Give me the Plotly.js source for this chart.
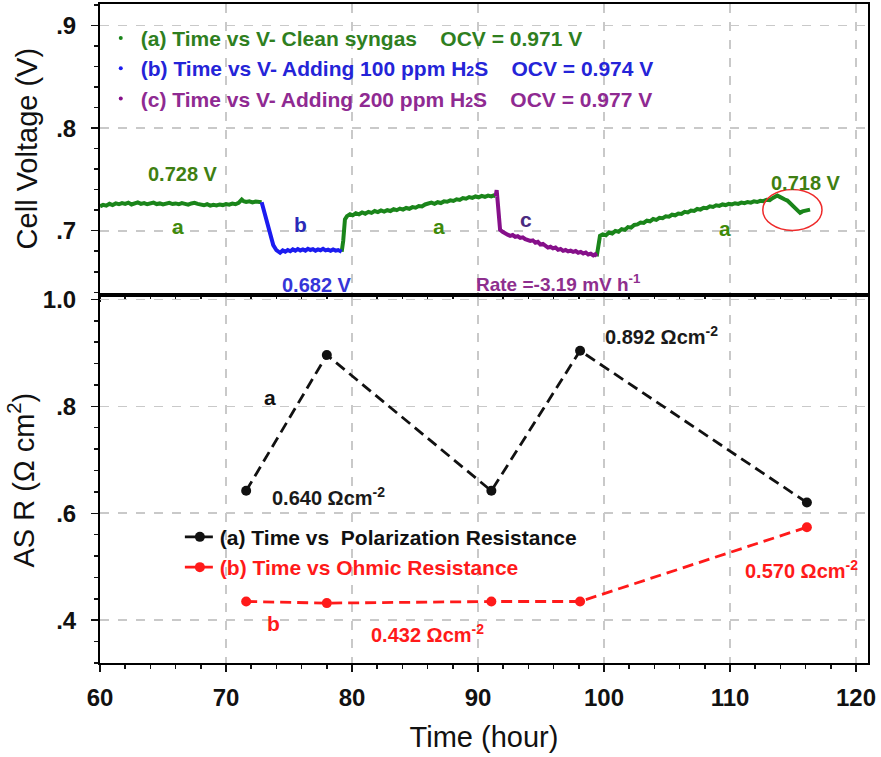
<!DOCTYPE html>
<html>
<head>
<meta charset="utf-8">
<script src="https://cdn.plot.ly/plotly-3.0.1.min.js"></script>
<style>html,body{margin:0;padding:0;background:#fff;}#chart{width:881px;height:757px;}</style>
</head>
<body>
<div id="chart"></div>
<script>
// ---------- Top panel: cell voltage vs time ----------
const timeCleanA1 = [60.0,60.25,60.5,60.75,61.0,61.25,61.5,61.75,62.0,62.25,62.5,62.75,63.0,63.25,63.5,63.75,64.0,64.25,64.5,64.75,65.0,65.25,65.5,65.75,66.0,66.25,66.5,66.75,67.0,67.25,67.5,67.75,68.0,68.25,68.5,68.75,69.0,69.25,69.5,69.75,70.0,70.25,70.5,70.75,71.0,71.15,71.25,71.4,71.6,71.85,72.1,72.35,72.6,72.83];
const voltCleanA1 = [0.7238,0.7252,0.7244,0.7262,0.7250,0.7266,0.7258,0.7270,0.7262,0.7274,0.7256,0.7268,0.7276,0.7262,0.7270,0.7258,0.7268,0.7274,0.7260,0.7266,0.7256,0.7268,0.7272,0.7260,0.7266,0.7258,0.7270,0.7262,0.7254,0.7266,0.7272,0.7262,0.7256,0.7248,0.7258,0.7244,0.7252,0.7246,0.7256,0.7250,0.7260,0.7254,0.7264,0.7258,0.7272,0.7290,0.7304,0.7288,0.7280,0.7286,0.7276,0.7284,0.7276,0.7278];

const time100ppm = [72.83,73.05,73.3,73.55,73.75,74.0,74.29,74.5,74.7,74.9,75.1,75.3,75.5,75.7,75.9,76.1,76.3,76.5,76.7,76.9,77.1,77.3,77.5,77.7,77.9,78.1,78.3,78.5,78.7,78.9,79.05,79.18];
const volt100ppm = [0.7278,0.7170,0.7050,0.6930,0.6860,0.6810,0.6785,0.6808,0.6796,0.6812,0.6800,0.6818,0.6806,0.6822,0.6808,0.6818,0.6806,0.6824,0.6812,0.6820,0.6806,0.6818,0.6810,0.6824,0.6808,0.6816,0.6804,0.6818,0.6806,0.6812,0.6800,0.6795];

const timeCleanA2 = [79.18,79.3,79.44,79.6,79.84,80.05,80.3,80.55,80.8,81.05,81.3,81.55,81.8,82.05,82.3,82.55,82.8,83.05,83.3,83.55,83.8,84.05,84.3,84.55,84.8,85.05,85.3,85.55,85.8,86.05,86.3,86.55,86.8,87.05,87.3,87.55,87.8,88.05,88.3,88.55,88.8,89.05,89.3,89.55,89.8,90.05,90.3,90.55,90.8,91.05,91.25,91.4];
const voltCleanA2 = [0.6795,0.6900,0.7110,0.7142,0.7160,0.7150,0.7170,0.7160,0.7178,0.7166,0.7184,0.7174,0.7192,0.7182,0.7198,0.7186,0.7200,0.7192,0.7210,0.7200,0.7216,0.7206,0.7222,0.7214,0.7230,0.7224,0.7240,0.7236,0.7256,0.7264,0.7274,0.7262,0.7278,0.7270,0.7286,0.7282,0.7296,0.7290,0.7306,0.7300,0.7318,0.7312,0.7328,0.7320,0.7334,0.7326,0.7340,0.7330,0.7342,0.7334,0.7344,0.7337];

const time200ppm = [91.4,91.48,91.55,91.65,91.75,91.95,92.15,92.35,92.55,92.75,92.95,93.15,93.35,93.55,93.75,93.95,94.15,94.35,94.55,94.75,94.95,95.15,95.35,95.55,95.75,95.95,96.15,96.35,96.55,96.75,96.95,97.15,97.35,97.55,97.75,97.95,98.15,98.35,98.55,98.75,98.95,99.15,99.3,99.42];
const volt200ppm = [0.7337,0.7395,0.7300,0.7100,0.7010,0.6990,0.6972,0.6962,0.6950,0.6958,0.6940,0.6946,0.6930,0.6936,0.6918,0.6912,0.6900,0.6906,0.6884,0.6892,0.6866,0.6872,0.6852,0.6836,0.6844,0.6828,0.6836,0.6814,0.6822,0.6804,0.6812,0.6798,0.6806,0.6794,0.6802,0.6786,0.6794,0.6778,0.6788,0.6768,0.6776,0.6760,0.6770,0.6750];

const timeCleanA3 = [99.42,99.55,99.68,99.9,100.15,100.4,100.65,100.9,101.15,101.4,101.65,101.9,102.15,102.4,102.65,102.9,103.15,103.4,103.65,103.9,104.15,104.4,104.65,104.9,105.15,105.4,105.65,105.9,106.15,106.4,106.65,106.9,107.15,107.4,107.65,107.9,108.15,108.4,108.65,108.9,109.15,109.4,109.65,109.9,110.15,110.4,110.65,110.9,111.15,111.4,111.65,111.9,112.15,112.4,112.65,112.9,113.15,113.4,113.6,113.75,113.95,114.15,114.35,114.55,114.76,114.95,115.15,115.35,115.56,115.75,115.95,116.15,116.35];
const voltCleanA3 = [0.6750,0.6850,0.6950,0.6964,0.6956,0.6982,0.6972,0.6998,0.6990,0.7016,0.7008,0.7036,0.7030,0.7056,0.7062,0.7080,0.7076,0.7098,0.7092,0.7114,0.7106,0.7126,0.7122,0.7140,0.7136,0.7156,0.7150,0.7168,0.7164,0.7184,0.7178,0.7196,0.7192,0.7212,0.7206,0.7224,0.7220,0.7238,0.7232,0.7248,0.7242,0.7256,0.7250,0.7262,0.7256,0.7268,0.7262,0.7274,0.7268,0.7280,0.7274,0.7286,0.7280,0.7292,0.7288,0.7302,0.7298,0.7320,0.7336,0.7343,0.7330,0.7322,0.7304,0.7294,0.7271,0.7252,0.7228,0.7196,0.7174,0.7188,0.7194,0.7202,0.7206];

// ---------- Bottom panel: ASR vs time ----------
const timeASR = [71.6, 78.0, 91.06, 98.1, 116.1];
const polarizationASR = [0.642, 0.896, 0.642, 0.904, 0.620];
const ohmicASR = [0.435, 0.432, 0.435, 0.435, 0.574];

// ---------- Tick labels ----------
const xTickVals = [60, 70, 80, 90, 100, 110, 120];
const yTopTickVals = [0.7, 0.8, 0.9];
const yTopTickText = ['.7', '.8', '.9'];
const yBotTickVals = [0.4, 0.6, 0.8, 1.0];
const yBotTickText = ['.4', '.6', '.8', '1.0'];

// ---------- Legend labels ----------
const legendTop = [
  '(a) Time vs V- Clean syngas\u00A0\u00A0\u00A0\u00A0OCV = 0.971 V',
  '(b) Time vs V- Adding 100 ppm H<span style="font-size:14px">2</span>S\u00A0\u00A0\u00A0\u00A0OCV = 0.974 V',
  '(c) Time vs V- Adding 200 ppm H<span style="font-size:14px">2</span>S\u00A0\u00A0\u00A0\u00A0OCV = 0.977 V'
];
const legendBottom = ['(a) Time vs\u00A0 Polarization Resistance', '(b) Time vs Ohmic Resistance'];

const FONT = 'Liberation Sans, Arial, Helvetica, sans-serif';
const GREEN = '#1a851a', BLUE = '#1c1cf0', PURPLE = '#86108a';
const GRID = '#c9c9c9';

const greenX = [...timeCleanA1, null, ...timeCleanA2, null, ...timeCleanA3];
const greenY = [...voltCleanA1, null, ...voltCleanA2, null, ...voltCleanA3];

const data = [
  {x: greenX, y: greenY, xaxis: 'x', yaxis: 'y', mode: 'lines', line: {color: GREEN, width: 4}, showlegend: false, connectgaps: false},
  {x: time100ppm, y: volt100ppm, xaxis: 'x', yaxis: 'y', mode: 'lines', line: {color: BLUE, width: 4}, showlegend: false},
  {x: time200ppm, y: volt200ppm, xaxis: 'x', yaxis: 'y', mode: 'lines', line: {color: PURPLE, width: 4}, showlegend: false},
  // legend entries (dot symbols) for the top panel
  {x: [null], y: [null], xaxis: 'x', yaxis: 'y', mode: 'markers', marker: {color: GREEN, size: 4},
   name: '<span style="color:#2f7f1f">' + legendTop[0] + '</span>', legend: 'legend'},
  {x: [null], y: [null], xaxis: 'x', yaxis: 'y', mode: 'markers', marker: {color: BLUE, size: 4},
   name: '<span style="color:#2424d8">' + legendTop[1] + '</span>', legend: 'legend'},
  {x: [null], y: [null], xaxis: 'x', yaxis: 'y', mode: 'markers', marker: {color: PURPLE, size: 4},
   name: '<span style="color:#8f2a92">' + legendTop[2] + '</span>', legend: 'legend'},
  // bottom panel
  {x: timeASR, y: polarizationASR, xaxis: 'x2', yaxis: 'y2', mode: 'lines+markers',
   line: {color: '#111111', width: 2.8, dash: '11px,6px'}, marker: {color: '#111111', size: 10},
   name: '<span style="color:#111111">' + legendBottom[0] + '</span>', legend: 'legend2'},
  {x: timeASR, y: ohmicASR, xaxis: 'x2', yaxis: 'y2', mode: 'lines+markers',
   line: {color: '#ff1a1a', width: 2.8, dash: '11px,6px'}, marker: {color: '#ff1a1a', size: 10},
   name: '<span style="color:#ff1a1a">' + legendBottom[1] + '</span>', legend: 'legend2'}
];

const tickFont = {family: FONT, size: 24, color: '#111', weight: 700};
const xCommon = {
  range: [60, 120.95], tickmode: 'array', tickvals: xTickVals,
  ticks: 'outside', ticklen: 7, tickwidth: 1.5, tickcolor: '#111',
  minor: {tickmode: 'linear', tick0: 60, dtick: 2, ticklen: 4, tickwidth: 1.5, tickcolor: '#111', ticks: 'outside', showgrid: false},
  showgrid: true, gridcolor: GRID, griddash: 'dash', gridwidth: 1.6,
  showline: true, linecolor: '#000', linewidth: 2, mirror: true, zeroline: false,
  tickfont: tickFont, ticklabelstandoff: 5
};

const layout = {
  width: 881, height: 757,
  margin: {l: 100, r: 13, t: 4, b: 94},
  paper_bgcolor: '#fff', plot_bgcolor: '#fff',
  font: {family: FONT, color: '#111'},
  xaxis: Object.assign({}, xCommon, {anchor: 'y', domain: [0, 1], showticklabels: false}),
  xaxis2: Object.assign({}, xCommon, {anchor: 'y2', domain: [0, 1], matches: 'x',
    title: {text: 'Time (hour)', font: {family: FONT, size: 29, color: '#111'}, standoff: 17}}),
  yaxis: {
    anchor: 'x', domain: [0.561, 1], range: [0.639, 0.921],
    tickmode: 'array', tickvals: yTopTickVals, ticktext: yTopTickText,
    ticks: 'outside', ticklen: 7, tickwidth: 1.5, tickcolor: '#111',
    minor: {tickmode: 'linear', tick0: 0.6, dtick: 0.02, ticklen: 4, tickwidth: 1.5, tickcolor: '#111', ticks: 'outside', showgrid: false},
    showgrid: true, gridcolor: GRID, griddash: 'dash', gridwidth: 1.6,
    showline: true, linecolor: '#000', linewidth: 2, mirror: true, zeroline: false,
    tickfont: tickFont, ticklabelstandoff: 10,
    title: {text: 'Cell Voltage (V)', font: {family: FONT, size: 29, color: '#111'}, standoff: 10}
  },
  yaxis2: {
    anchor: 'x2', domain: [0, 0.555], range: [0.32, 1.004],
    tickmode: 'array', tickvals: yBotTickVals, ticktext: yBotTickText,
    ticks: 'outside', ticklen: 7, tickwidth: 1.5, tickcolor: '#111',
    minor: {tickmode: 'linear', tick0: 0.4, dtick: 0.04, ticklen: 4, tickwidth: 1.5, tickcolor: '#111', ticks: 'outside', showgrid: false},
    showgrid: true, gridcolor: GRID, griddash: 'dash', gridwidth: 1.6,
    showline: true, linecolor: '#000', linewidth: 2, mirror: true, zeroline: false,
    tickfont: tickFont, ticklabelstandoff: 10,
    title: {text: 'AS R (\u03A9 cm<sup>2</sup>)', font: {family: FONT, size: 29, color: '#111'}, standoff: 0}
  },
  legend: {
    x: 0.001, y: 0.979, xanchor: 'left', yanchor: 'top', bgcolor: 'rgba(0,0,0,0)',
    font: {family: FONT, size: 21, weight: 700}, tracegroupgap: 0, itemwidth: 30
  },
  legend2: {
    x: 0.104, y: 0.222, xanchor: 'left', yanchor: 'top', bgcolor: 'rgba(0,0,0,0)',
    font: {family: FONT, size: 21, weight: 700}, tracegroupgap: 0, itemwidth: 30
  },
  shapes: [
    {type: 'circle', xref: 'x', yref: 'y', x0: 112.6, x1: 117.3, y0: 0.7003, y1: 0.7402,
     line: {color: '#ee2b2b', width: 1.5}}
  ],
  annotations: [
    {x: 66.55, y: 0.7549, xref: 'x', yref: 'y', text: '0.728 V', showarrow: false, font: {family: FONT, size: 20, color: '#3f7f12', weight: 700}},
    {x: 66.2, y: 0.704, xref: 'x', yref: 'y', text: 'a', showarrow: false, font: {family: FONT, size: 21, color: '#3f8a0a', weight: 700}},
    {x: 75.9, y: 0.706, xref: 'x', yref: 'y', text: 'b', showarrow: false, font: {family: FONT, size: 21, color: '#2a2ab8', weight: 700}},
    {x: 77.2, y: 0.647, xref: 'x', yref: 'y', text: '0.682 V', showarrow: false, font: {family: FONT, size: 20, color: '#3535d8', weight: 700}},
    {x: 86.9, y: 0.704, xref: 'x', yref: 'y', text: 'a', showarrow: false, font: {family: FONT, size: 21, color: '#3f8a0a', weight: 700}},
    {x: 93.8, y: 0.711, xref: 'x', yref: 'y', text: 'c', showarrow: false, font: {family: FONT, size: 21, color: '#4a2a80', weight: 700}},
    {x: 96.4, y: 0.6487, xref: 'x', yref: 'y', text: 'Rate =-3.19 mV h<sup>-1</sup>', showarrow: false, font: {family: FONT, size: 19, color: '#8e2f8e', weight: 700}},
    {x: 109.6, y: 0.7026, xref: 'x', yref: 'y', text: 'a', showarrow: false, font: {family: FONT, size: 21, color: '#3f8a0a', weight: 700}},
    {x: 116.0, y: 0.7468, xref: 'x', yref: 'y', text: '0.718 V', showarrow: false, font: {family: FONT, size: 20, color: '#3f7f12', weight: 700}},

    {x: 73.5, y: 0.817, xref: 'x2', yref: 'y2', text: 'a', showarrow: false, font: {family: FONT, size: 21, color: '#111', weight: 700}},
    {x: 78.1, y: 0.631, xref: 'x2', yref: 'y2', text: '0.640 \u03A9cm<sup>-2</sup>', showarrow: false, font: {family: FONT, size: 20, color: '#1a1a1a', weight: 700}},
    {x: 104.6, y: 0.933, xref: 'x2', yref: 'y2', text: '0.892 \u03A9cm<sup>-2</sup>', showarrow: false, font: {family: FONT, size: 20, color: '#1a1a1a', weight: 700}},
    {x: 73.75, y: 0.394, xref: 'x2', yref: 'y2', text: 'b', showarrow: false, font: {family: FONT, size: 21, color: '#ff1a1a', weight: 700}},
    {x: 86.0, y: 0.375, xref: 'x2', yref: 'y2', text: '0.432 \u03A9cm<sup>-2</sup>', showarrow: false, font: {family: FONT, size: 20, color: '#ff1a1a', weight: 700}},
    {x: 115.7, y: 0.494, xref: 'x2', yref: 'y2', text: '0.570 \u03A9cm<sup>-2</sup>', showarrow: false, font: {family: FONT, size: 20, color: '#ff1a1a', weight: 700}}
  ]
};

Plotly.newPlot('chart', data, layout, {staticPlot: true, displayModeBar: false});
</script>
</body>
</html>
